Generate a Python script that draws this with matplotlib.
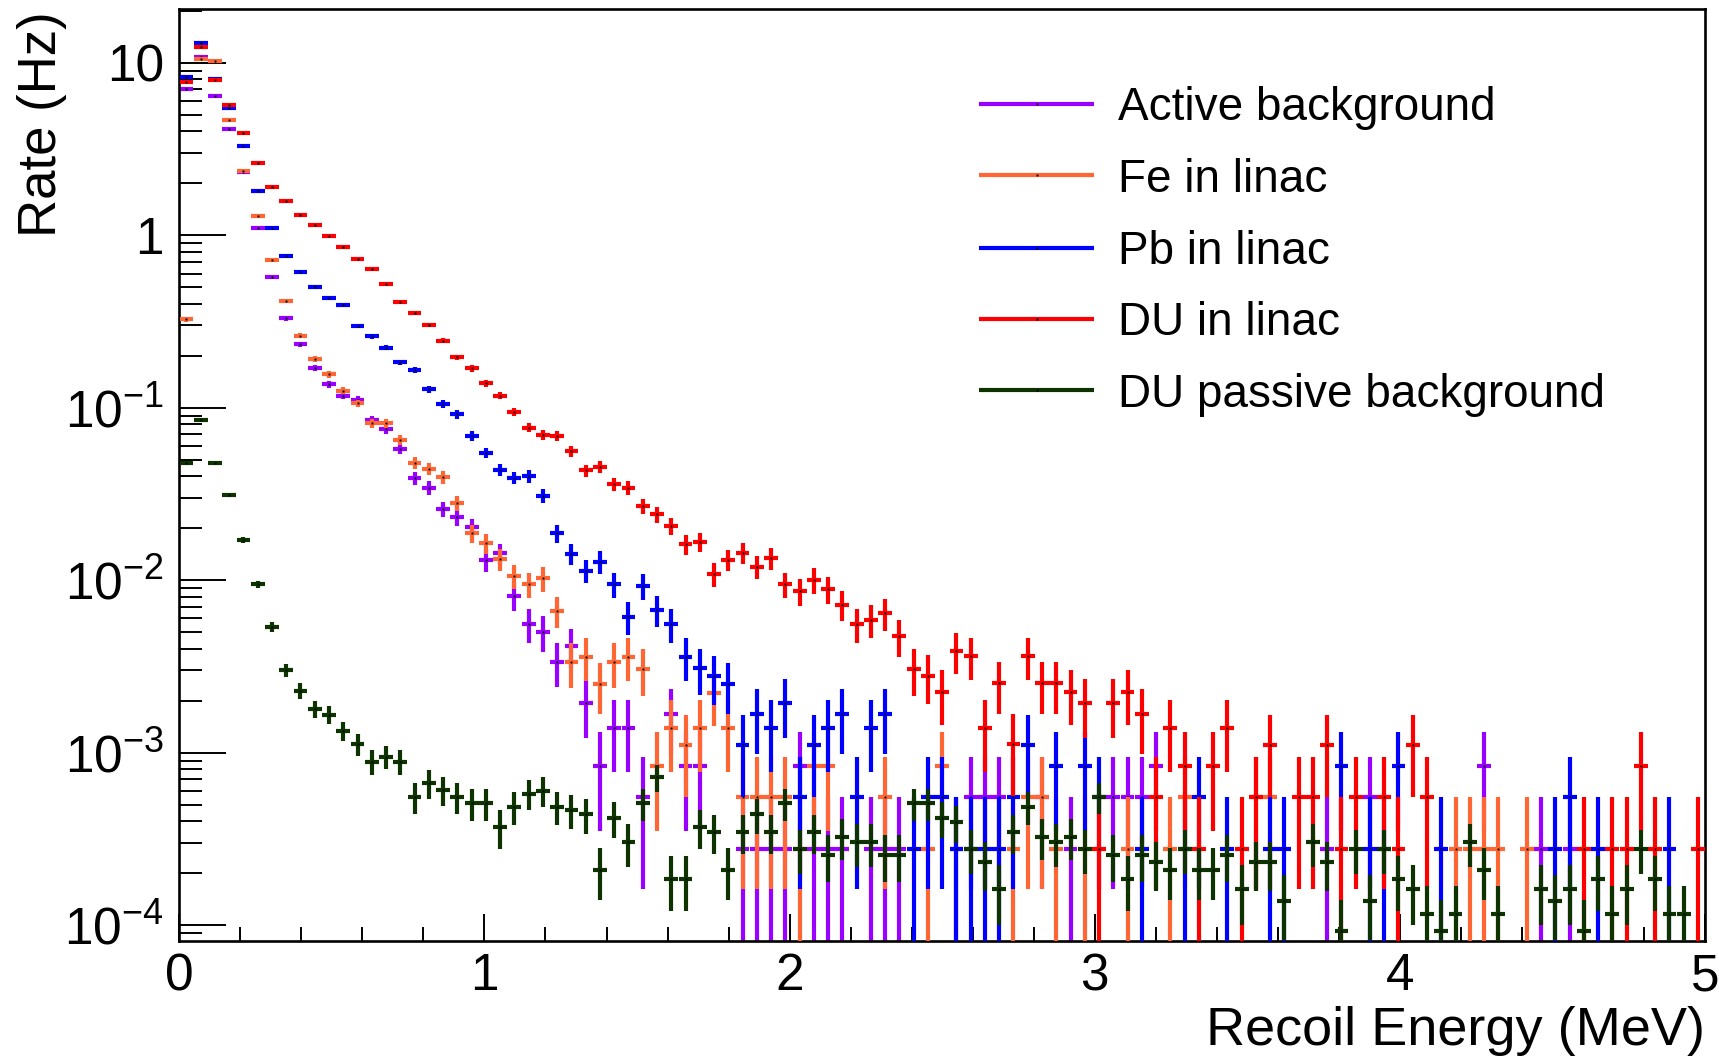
import numpy as np
import matplotlib
matplotlib.use("Agg")
import matplotlib.pyplot as plt
from matplotlib.lines import Line2D
from matplotlib.ticker import FixedLocator, FuncFormatter, NullFormatter

plt.rcParams["font.family"] = ["Liberation Sans", "DejaVu Sans"]
plt.rcParams["mathtext.default"] = "regular"

# Recoil-energy binning (MeV)
E_LO, E_HI, N_BINS = 0.0, 5.0, 107

# Rate carried by a single simulated count (Hz)
W_LINAC = 2.78e-4
W_PASSIVE = 2.32e-5

labels = ["Active background", "Fe in linac", "Pb in linac", "DU in linac",
          "DU passive background"]
colors = ["#9900ff", "#ff6633", "#0000ff", "#ff0000", "#0d3300"]

active = [
    7.04, 10.8, 6.41, 4.13, 2.33, 1.105, 0.573, 0.330, 0.234, 0.171,
    0.137, 0.1175, 0.111, 0.0849, 0.0752, 0.0576, 0.039, 0.0344, 0.0259, 0.0233,
    0.0204, 0.0131, 0.0143, 0.00809, 0.00557, 0.00503, 0.00337, 0.00417, 0.00195, 8.34e-4,
    1.39e-3, 1.39e-3, 5.56e-4, 0, 1.67e-3, 8.34e-4, 8.34e-4, 0, 0, 2.78e-4,
    2.78e-4, 2.78e-4, 2.78e-4, 8.34e-4, 2.78e-4, 2.78e-4, 2.78e-4, 0, 2.78e-4, 2.78e-4,
    2.78e-4, 0, 0, 0, 2.78e-4, 5.56e-4, 5.56e-4, 5.56e-4, 0, 0,
    5.56e-4, 0, 2.78e-4, 0, 0, 5.56e-4, 5.56e-4, 5.56e-4, 8.34e-4, 0,
    0, 0, 0, 0, 0, 0, 0, 0, 0, 0,
    2.78e-4, 0, 0, 5.56e-4, 0, 0, 0, 0, 0, 0,
    0, 8.34e-4, 0, 0, 0, 2.78e-4, 0, 2.78e-4, 0, 0,
    0, 0, 0, 0, 0, 0, 0,
]

fe_linac = [
    0.325, 10.46, 10.23, 4.66, 2.36, 1.30, 0.721, 0.417, 0.261, 0.1915,
    0.156, 0.1256, 0.106, 0.0812, 0.0812, 0.065, 0.048, 0.0441, 0.0395, 0.0279,
    0.0187, 0.0164, 0.0132, 0.01057, 0.00946, 0.01025, 0.00667, 0.00334, 0.00361, 0.0025,
    0.00334, 0.00361, 0.00306, 8.34e-4, 1.39e-3, 1.11e-3, 1.39e-3, 2.22e-3, 1.39e-3, 5.56e-4,
    5.56e-4, 5.56e-4, 5.56e-4, 2.78e-4, 8.34e-4, 8.34e-4, 0, 0, 0, 5.56e-4,
    0, 0, 2.78e-4, 8.34e-4, 0, 0, 0, 0, 2.78e-4, 5.56e-4,
    5.56e-4, 2.78e-4, 0, 2.78e-4, 0, 0, 2.78e-4, 0, 0, 2.78e-4,
    5.56e-4, 0, 0, 0, 0, 5.56e-4, 5.56e-4, 0, 0, 0,
    0, 0, 0, 0, 0, 0, 0, 0, 0, 2.78e-4,
    2.78e-4, 2.78e-4, 2.78e-4, 0, 2.78e-4, 0, 0, 0, 0, 0,
    0, 0, 0, 0, 0, 0, 0,
]

pb_linac = [
    8.30, 12.96, 8.1, 5.44, 3.29, 1.81, 1.105, 0.757, 0.609, 0.503,
    0.430, 0.392, 0.298, 0.260, 0.223, 0.183, 0.1656, 0.128, 0.105, 0.0916,
    0.0686, 0.0548, 0.0435, 0.0393, 0.0402, 0.0308, 0.0187, 0.0142, 0.01135, 0.0128,
    0.00946, 0.00614, 0.00925, 0.00671, 0.00557, 0.00361, 0.00309, 0.00278, 0.0025, 1.11e-3,
    1.67e-3, 1.39e-3, 1.95e-3, 5.56e-4, 1.11e-3, 1.39e-3, 1.67e-3, 5.56e-4, 1.39e-3, 1.67e-3,
    0, 2.78e-4, 5.56e-4, 5.56e-4, 2.78e-4, 2.78e-4, 2.78e-4, 2.78e-4, 5.56e-4, 1.11e-3,
    0, 8.34e-4, 0, 8.34e-4, 5.56e-4, 0, 0, 2.78e-4, 0, 0,
    2.78e-4, 5.56e-4, 0, 2.78e-4, 0, 0, 2.78e-4, 2.78e-4, 0, 0,
    0, 8.34e-4, 0, 2.78e-4, 2.78e-4, 8.34e-4, 0, 0, 2.78e-4, 0,
    0, 0, 0, 0, 0, 0, 2.78e-4, 5.56e-4, 0, 2.78e-4,
    0, 0, 0, 0, 2.78e-4, 0, 0,
]

du_linac = [
    7.69, 12.27, 7.94, 5.69, 3.90, 2.61, 1.91, 1.58, 1.31, 1.14,
    0.989, 0.858, 0.728, 0.637, 0.519, 0.410, 0.356, 0.3015, 0.2445, 0.196,
    0.169, 0.1385, 0.1175, 0.0949, 0.0766, 0.0695, 0.0686, 0.0561, 0.0433, 0.0455,
    0.0360, 0.0344, 0.0268, 0.0241, 0.0206, 0.01615, 0.01671, 0.01086, 0.01315, 0.01443,
    0.01197, 0.01339, 0.00946, 0.00866, 0.01003, 0.00889, 0.00722, 0.00557, 0.00588, 0.00643,
    0.00475, 0.00305, 0.00279, 0.00224, 0.0039, 0.00364, 0.0014, 0.00252, 0.00112, 0.00364,
    0.00252, 0.00252, 0.00224, 0.00195, 2.78e-4, 0.00195, 0.00224, 0.00167, 5.56e-4, 1.39e-3,
    8.34e-4, 2.78e-4, 8.34e-4, 1.39e-3, 2.78e-4, 5.56e-4, 1.11e-3, 0, 5.56e-4, 5.56e-4,
    1.11e-3, 2.78e-4, 5.56e-4, 0, 5.56e-4, 2.78e-4, 1.11e-3, 5.56e-4, 0, 0,
    0, 0, 0, 0, 0, 0, 0, 0, 2.78e-4, 0,
    2.78e-4, 2.78e-4, 8.34e-4, 2.78e-4, 0, 0, 2.78e-4,
]

du_passive = [
    0.0476, 0.0849, 0.0476, 0.0313, 0.0171, 0.00946, 0.00537, 0.00301, 0.00229, 0.00179,
    0.00166, 0.00134, 0.00112, 8.87e-4, 9.48e-4, 8.87e-4, 5.56e-4, 6.65e-4, 6.09e-4, 5.56e-4,
    5.10e-4, 5.10e-4, 3.71e-4, 4.87e-4, 5.80e-4, 6.03e-4, 4.87e-4, 4.64e-4, 4.41e-4, 2.09e-4,
    4.18e-4, 3.02e-4, 5.10e-4, 7.19e-4, 1.86e-4, 1.86e-4, 3.71e-4, 3.48e-4, 2.09e-4, 3.48e-4,
    4.41e-4, 3.48e-4, 5.10e-4, 2.78e-4, 3.48e-4, 2.55e-4, 3.25e-4, 3.02e-4, 3.02e-4, 2.55e-4,
    2.55e-4, 5.10e-4, 5.10e-4, 4.18e-4, 3.94e-4, 2.78e-4, 2.32e-4, 1.62e-4, 3.48e-4, 4.87e-4,
    3.25e-4, 3.02e-4, 3.25e-4, 2.78e-4, 5.57e-4, 2.55e-4, 1.86e-4, 2.55e-4, 2.32e-4, 2.09e-4,
    2.78e-4, 2.09e-4, 2.09e-4, 2.55e-4, 1.62e-4, 2.32e-4, 2.32e-4, 1.39e-4, 0, 3.02e-4,
    2.32e-4, 0.93e-4, 2.78e-4, 1.39e-4, 2.78e-4, 1.86e-4, 1.62e-4, 1.16e-4, 0.93e-4, 1.16e-4,
    3.02e-4, 2.09e-4, 1.16e-4, 0, 0, 1.62e-4, 1.39e-4, 1.62e-4, 0.93e-4, 1.86e-4,
    1.16e-4, 1.62e-4, 2.78e-4, 1.86e-4, 1.16e-4, 1.16e-4, 0,
]

series = [active, fe_linac, pb_linac, du_linac, du_passive]
weights = [W_LINAC, W_LINAC, W_LINAC, W_LINAC, W_PASSIVE]

edges = np.linspace(E_LO, E_HI, N_BINS + 1)
centers = 0.5 * (edges[:-1] + edges[1:])
half_w = 0.5 * (edges[1] - edges[0])

fig = plt.figure(figsize=(17.19, 10.56), dpi=100)
ax = fig.add_axes([0.1043, 0.1089, 0.8876, 0.8826])
ax.set_yscale("log")

LW = 3.0
for i, (vals, w, c) in enumerate(zip(series, weights, colors)):
    v = np.asarray(vals, dtype=float)
    m = v > 0
    x = centers[m]
    y = v[m]
    err = np.sqrt(y * w)
    lo = np.minimum(err, y * (1 - 1e-9))
    z = 2 + 2 * i
    ax.errorbar(x, y, xerr=half_w * 0.97, yerr=[lo, err], fmt="none",
                ecolor=c, elinewidth=LW, capsize=0, zorder=z)
    ax.plot(x, y, ls="none", marker="s", ms=1.4, mec="none", color="black",
            zorder=z + 0.5)

ax.set_xlim(E_LO, E_HI)
ax.set_ylim(8.1e-5, 20.5)

# Axis ticks, drawn inside the frame
ax.xaxis.set_major_locator(FixedLocator([0, 1, 2, 3, 4, 5]))
ax.xaxis.set_minor_locator(FixedLocator(np.arange(0.2, 5.0, 0.2)))
ax.xaxis.set_major_formatter(FuncFormatter(lambda v, p: "%d" % round(v)))

decades = np.arange(-4, 2)
ax.yaxis.set_major_locator(FixedLocator(10.0 ** decades))
minor = [k * 10.0 ** e for e in range(-5, 2) for k in range(2, 10)]
ax.yaxis.set_minor_locator(FixedLocator(minor))
ax.yaxis.set_minor_formatter(NullFormatter())


def ylab(v, pos):
    e = int(round(np.log10(v)))
    if e == 1:
        return "10"
    if e == 0:
        return "1"
    return r"$10^{%d}$" % e


ax.yaxis.set_major_formatter(FuncFormatter(ylab))

ax.tick_params(axis="y", which="major", direction="in", length=33.8, width=1.4,
               labelsize=37, pad=11, right=False)
ax.tick_params(axis="y", which="minor", direction="in", length=16.6, width=1.4,
               right=False)
ax.tick_params(axis="x", which="major", direction="in", length=19.5, width=1.4,
               labelsize=37, pad=8, top=False)
ax.tick_params(axis="x", which="minor", direction="in", length=10, width=1.4,
               top=False)

for s in ax.spines.values():
    s.set_linewidth(1.9)

ax.set_xlabel("Recoil Energy (MeV)", fontsize=39)
ax.xaxis.set_label_coords(1.0, -0.112)
ax.xaxis.label.set_ha("right")
ax.xaxis.label.set_va("baseline")

ax.set_ylabel("Rate (Hz)", fontsize=38, rotation=90, rotation_mode="anchor")
ax.yaxis.set_label_coords(-0.090, 0.997)
ax.yaxis.label.set_ha("right")
ax.yaxis.label.set_va("center")

# Legend drawn in figure pixel coordinates
FW, FH = 1719.0, 1056.0
rows_y = [104, 175, 248, 319, 390]
for lab, c, yy in zip(labels, colors, rows_y):
    yf = 1 - yy / FH
    fig.add_artist(Line2D([979 / FW, 1094 / FW], [yf, yf], color=c, lw=LW,
                          solid_capstyle="butt"))
    fig.add_artist(Line2D([1036.5 / FW], [yf], ls="none", marker="s", ms=1.4,
                          mec="none", color="black"))
    fig.text(1118 / FW, 1 - (yy + 16.5) / FH, lab, fontsize=33, va="baseline",
             ha="left")

fig.savefig("out.png", dpi=100, facecolor="white")
